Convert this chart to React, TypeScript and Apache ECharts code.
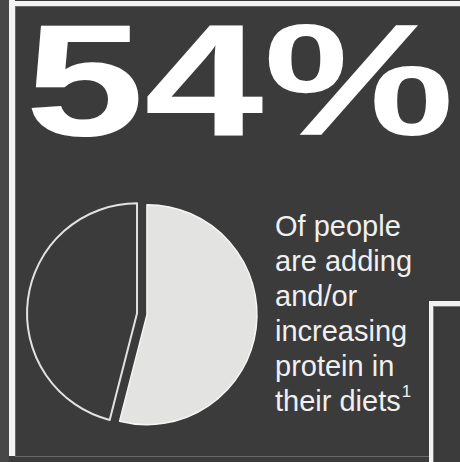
import React, { useEffect, useRef } from "react";
import * as echarts from "echarts";

const percentLabel = "54%";
const sliceNames = ["Adding and/or increasing protein", "Others"];
const sliceValues = [54, 46];
const captionLines = ["Of people", "are adding", "and/or", "increasing", "protein in", "their diets"];
const footnoteMark = "1";

const BG = "#3b3b3b";
const WHITE = "#f2f2f2";

export default function App() {
  const ref = useRef<HTMLDivElement>(null);
  useEffect(() => {
    if (!ref.current) return;
    const chart = echarts.init(ref.current, undefined, { renderer: "svg" });
    const sliceStyles = [
      { color: "#e3e3e1", borderColor: "#f6f6f6", borderWidth: 1.5 },
      { color: BG, borderColor: "#e2e2e2", borderWidth: 2 },
    ];
    chart.setOption({
      animation: false,
      backgroundColor: BG,
      series: [
        {
          type: "pie",
          center: [142, 314],
          radius: 110,
          startAngle: 90,
          clockwise: true,
          selectedMode: "multiple",
          selectedOffset: 5,
          label: { show: false },
          labelLine: { show: false },
          emphasis: { disabled: true },
          silent: true,
          z: 5,
          data: sliceValues.map((v, i) => ({
            value: v,
            name: sliceNames[i],
            selected: true,
            itemStyle: sliceStyles[i],
            select: { itemStyle: sliceStyles[i] },
          })),
        },
      ],
      graphic: [
        { type: "rect", z: 0, shape: { x: 0, y: 0, width: 9, height: 462 }, style: { fill: "#474747" } },
        { type: "rect", z: 1, shape: { x: 9, y: 1, width: 451, height: 5 }, style: { fill: WHITE } },
        { type: "rect", z: 1, shape: { x: 9, y: 0, width: 6, height: 456 }, style: { fill: WHITE } },
        { type: "line", z: 1, shape: { x1: 15, y1: 6.5, x2: 460, y2: 6.5 }, style: { stroke: "#666", lineWidth: 1 } },
        { type: "line", z: 1, shape: { x1: 15.5, y1: 6, x2: 15.5, y2: 456 }, style: { stroke: "#666", lineWidth: 1 } },
        { type: "line", z: 1, shape: { x1: 15, y1: 456.5, x2: 429, y2: 456.5 }, style: { stroke: "#6a6a6a", lineWidth: 1 } },
        { type: "rect", z: 1, shape: { x: 429, y: 301, width: 4, height: 161 }, style: { fill: WHITE } },
        { type: "rect", z: 1, shape: { x: 429, y: 301, width: 31, height: 5 }, style: { fill: WHITE } },
        { type: "line", z: 1, shape: { x1: 433.5, y1: 306, x2: 433.5, y2: 462 }, style: { stroke: "#777", lineWidth: 1 } },
        { type: "line", z: 1, shape: { x1: 433, y1: 306.5, x2: 460, y2: 306.5 }, style: { stroke: "#777", lineWidth: 1 } },
        {
          type: "text",
          z: 10,
          x: 25,
          y: 80,
          scaleX: 1.34,
          scaleY: 1,
          style: {
            x: 0,
            y: 0,
            text: percentLabel,
            fill: "#ffffff",
            font: "bold 160px 'Liberation Sans', Arial, sans-serif",
            lineHeight: 120,
            textAlign: "left",
            textVerticalAlign: "middle",
          },
        },
        {
          type: "text",
          z: 10,
          x: 275,
          y: 208,
          style: {
            x: 0,
            y: 0,
            text: captionLines.join("\n") + "{sup|" + footnoteMark + "}",
            fill: "#f0f0f0",
            fontSize: 29,
            fontFamily: "'Liberation Sans', Arial, sans-serif",
            lineHeight: 35,
            textAlign: "left",
            textVerticalAlign: "top",
            rich: {
              sup: { fontSize: 17, fill: "#f0f0f0", fontFamily: "'Liberation Sans', Arial, sans-serif", verticalAlign: "top", lineHeight: 35, padding: [0, 0, 0, 1] },
            },
          },
        },
      ],
    });
    return () => chart.dispose();
  }, []);
  return (
    <div
      ref={ref}
      style={{ position: "fixed", left: 0, top: 0, width: 460, height: 462 }}
    />
  );
}
